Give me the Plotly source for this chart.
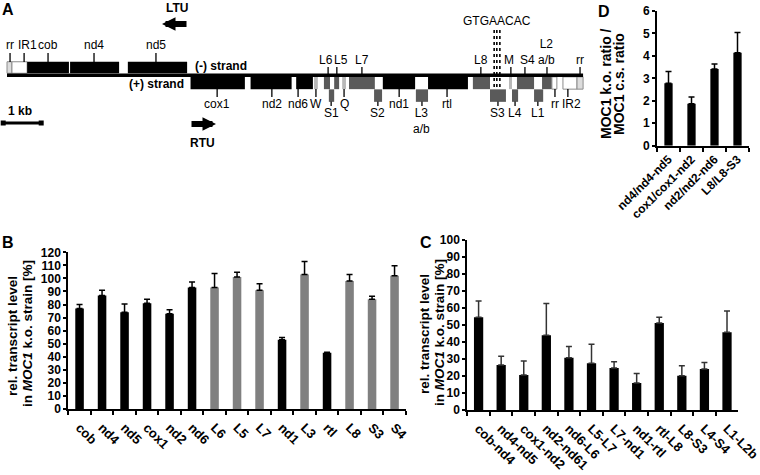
import plotly.graph_objects as go

W, H = 760, 475
FONT = 'Liberation Sans, Arial, sans-serif'

# ---------- A: gene map of the mitochondrial genome (positions in kb) ----------
genome_kb = 15.16
gene_names = ['rr', 'IR1', 'cob', 'nd4', 'nd5',
              'cox1', 'nd2', 'nd6', 'W', 'L6', 'L5', 'Q', 'L7', 'nd1', 'rtl',
              'L8', 'M', 'S4', 'L2', 'rr', 'IR2', 'rr',
              'S1', 'S2', 'L3', 'S3', 'L4', 'L1']
gene_start = [0.00, 0.13, 0.53, 1.66, 3.18,
              4.83, 6.41, 7.61, 8.08, 8.34, 8.61, 8.82, 9.00, 9.89, 11.08,
              12.26, 13.21, 13.42, 14.08, 14.34, 14.63, 15.00,
              8.47, 9.66, 10.76, 12.71, 13.29, 13.87]
gene_end = [0.13, 0.53, 1.63, 2.95, 4.74,
            6.26, 7.49, 8.05, 8.18, 8.50, 8.74, 8.92, 9.68, 10.74, 12.13,
            12.71, 13.29, 13.87, 14.34, 14.47, 15.00, 15.16,
            8.61, 9.87, 11.08, 13.13, 13.45, 14.11]
gene_track = ['minus'] * 5 + ['plus'] * 17 + ['small'] * 6
gene_kind = ['end', 'repeat', 'protein', 'protein', 'protein',
             'protein', 'protein', 'protein', 'trna', 'rrna', 'rrna', 'trna', 'rrna', 'protein', 'protein',
             'rrna', 'trna', 'rrna', 'rrna', 'repeat', 'repeat', 'end',
             'rrna', 'rrna', 'rrna', 'rrna', 'rrna', 'rrna']

label_text = ['rr', 'IR1', 'cob', 'nd4', 'nd5',
              'L6', 'L5', 'L7', 'L8', 'M', 'S4', 'L2<br>a/b', 'rr',
              'cox1', 'nd2', 'nd6', 'W', 'Q', 'nd1', 'rtl', 'rr', 'IR2',
              'S1', 'S2', 'L3<br>a/b', 'S3', 'L4', 'L1']
label_kb = [0.08, 0.45, 1.08, 2.29, 3.92,
            8.45, 8.68, 9.34, 12.47, 13.26, 13.63, 14.21, 15.08,
            5.53, 6.97, 7.66, 8.13, 8.87, 10.32, 11.58, 14.42, 14.76,
            8.53, 9.76, 10.92, 12.92, 13.37, 13.97]
label_row = ['top'] * 5 + ['mid'] * 8 + ['low'] * 9 + ['sub'] * 6

motif_kb = [12.82, 12.89, 12.97]
scale_bar_kb = [-0.1, 0.9]

# ---------- B: single transcripts ----------
b_names = ['cob', 'nd4', 'nd5', 'cox1', 'nd2', 'nd6', 'L6', 'L5', 'L7',
           'nd1', 'L3', 'rtl', 'L8', 'S3', 'S4']
b_level = [77, 87, 74, 81, 73, 93, 93, 101, 91, 53, 103, 43, 98, 84, 102]
b_err = [3, 4, 6.5, 3, 3, 4.3, 10.7, 3.8, 4.9, 1.8, 10, 0.5, 5, 2.3, 7.7]
b_kind = ['protein'] * 6 + ['rrna'] * 3 + ['protein', 'rrna', 'protein', 'rrna', 'rrna', 'rrna']

# ---------- C: co-transcripts ----------
c_names = ['cob-nd4', 'nd4-nd5', 'cox1-nd2', 'nd2-nd61', 'nd6-L6', 'L5-L7',
           'L7-nd1', 'nd1-rtl', 'rtl-L8', 'L8-S3', 'L4-S4', 'L1-L2b']
c_level = [54.5, 26.5, 20.6, 43.9, 30.8, 27.5, 24.7, 15.9, 51.2, 20.2, 24.1, 45.7]
c_err = [9.6, 5.1, 8.2, 18.8, 6.5, 11.2, 3.7, 5.5, 3.3, 5.9, 3.9, 12.5]

# ---------- D: ratios ----------
d_names = ['nd4/nd4-nd5', 'cox1/cox1-nd2', 'nd2/nd2-nd6', 'L8/L8-S3']
d_ratio = [2.78, 1.87, 3.42, 4.14]
d_err = [0.53, 0.30, 0.22, 0.90]


def xp(p):
    return p / W


def yp(p):
    return 1 - p / H


TRACK = {'minus': (67.5, 11.5), 'plus': (83, 12.3), 'small': (95.6, 12.5)}
FILL = {'protein': '#000000', 'rrna': '#5a5a5a', 'trna': '#b8b8b8',
        'repeat': '#ffffff', 'end': '#dcdcdc'}
EDGE = {'protein': 0, 'rrna': 0, 'trna': 0, 'repeat': 1, 'end': 1}
# tick from y0 to y1, label anchored at y with given yanchor
ROW = {'top': (53, 62, 52.5, 'bottom'), 'mid': (67, 74.5, 68, 'bottom'),
       'low': (89, 97, 95.5, 'top'), 'sub': (101.5, 106, 104.5, 'top')}
# small sideways shifts (kb) so that neighbouring labels do not collide
NUDGE = {1: 0.08, 5: -0.05, 6: 0.1, 9: -0.05, 10: 0.06, 21: 0.1}
BAR_COL = {'protein': '#000000', 'rrna': '#808080'}

fig = go.Figure()

# gene boxes
fig.add_trace(go.Bar(
    orientation='h', xaxis='x4', yaxis='y4',
    base=gene_start, x=[e - s for s, e in zip(gene_start, gene_end)],
    y=[TRACK[t][0] for t in gene_track], width=[TRACK[t][1] for t in gene_track],
    marker=dict(color=[FILL[k] for k in gene_kind],
                line=dict(color='#8c8c8c', width=[EDGE[k] for k in gene_kind])),
    text=gene_names, textposition='none', hoverinfo='text'))

# strand line
fig.add_trace(go.Scatter(x=[0, genome_kb], y=[75.3, 75.3], mode='lines',
                         line=dict(color='black', width=3.4), xaxis='x4', yaxis='y4'))

# label ticks
tx, ty = [], []
for k, r in zip(label_kb, label_row):
    tx += [k, k, None]
    ty += [ROW[r][0], ROW[r][1], None]
fig.add_trace(go.Scatter(x=tx, y=ty, mode='lines', line=dict(color='black', width=1.3),
                         xaxis='x4', yaxis='y4'))

# GTGAACAC motif
mx, my = [], []
for k in motif_kb:
    mx += [k, k, None]
    my += [30, 89, None]
fig.add_trace(go.Scatter(x=mx, y=my, mode='lines', line=dict(color='black', width=1.6, dash='dot'),
                         xaxis='x4', yaxis='y4'))

# scale bar
fig.add_trace(go.Scatter(x=scale_bar_kb, y=[123, 123], mode='lines+markers',
                         line=dict(color='black', width=3),
                         marker=dict(symbol='square', size=5, color='black'),
                         xaxis='x4', yaxis='y4'))

# B
fig.add_trace(go.Bar(x=b_names, y=b_level, width=0.38, xaxis='x', yaxis='y',
                     marker=dict(color=[BAR_COL[k] for k in b_kind], line=dict(width=0)),
                     error_y=dict(type='data', symmetric=False, array=b_err, arrayminus=[0] * len(b_err),
                                  color='black', thickness=1.5, width=3)))
# C
fig.add_trace(go.Bar(x=c_names, y=c_level, width=0.41, xaxis='x2', yaxis='y2',
                     marker=dict(color='black', line=dict(width=0)),
                     error_y=dict(type='data', symmetric=False, array=c_err, arrayminus=[0] * len(c_err),
                                  color='#333333', thickness=1.5, width=3)))
# D
fig.add_trace(go.Bar(x=d_names, y=d_ratio, width=0.36, xaxis='x3', yaxis='y3',
                     marker=dict(color='black', line=dict(width=0)),
                     error_y=dict(type='data', symmetric=False, array=d_err, arrayminus=[0] * len(d_err),
                                  color='black', thickness=1.5, width=3)))


def cat_axis(x0, x1, n, angle, size, anchor, standoff=0):
    return dict(domain=[xp(x0), xp(x1)], type='category', range=[-0.5, n - 0.5], anchor=anchor,
                showline=True, linecolor='black', linewidth=2,
                ticks='outside', tickson='boundaries', ticklen=4, tickwidth=2, tickcolor='black',
                tickangle=angle, ticklabelstandoff=standoff,
                tickfont=dict(family=FONT, size=size, color='black', weight='bold'),
                showgrid=False, zeroline=False, fixedrange=True)


def val_axis(top, bottom, rng, dtick, anchor):
    return dict(domain=[yp(bottom), yp(top)], range=rng, dtick=dtick, anchor=anchor,
                showline=True, linecolor='black', linewidth=2,
                ticks='outside', ticklen=3, tickwidth=1.5, tickcolor='black',
                tickfont=dict(family=FONT, size=12, color='black', weight='bold'),
                showgrid=False, zeroline=False, fixedrange=True)


hidden = dict(visible=False, showgrid=False, zeroline=False, fixedrange=True)

anns = []
for i, (t, k, r) in enumerate(zip(label_text, label_kb, label_row)):
    anns.append(dict(xref='x4', yref='y4', x=k + NUDGE.get(i, 0), y=ROW[r][2], yanchor=ROW[r][3],
                     text=t, showarrow=False, font=dict(size=12), borderpad=0))
anns.append(dict(xref='x4', yref='y4', x=sum(motif_kb) / len(motif_kb), y=28.5, yanchor='bottom',
                 text='GTGAACAC', showarrow=False, font=dict(size=12), borderpad=0))


def txt(x, y, text, size=12, bold=True, angle=0):
    return dict(xref='paper', yref='paper', x=xp(x), y=yp(y), text=text, showarrow=False,
                textangle=angle, xanchor='center', yanchor='middle',
                font=dict(size=size, weight='bold' if bold else 'normal'))


anns += [
    txt(221, 66, '(-) strand'), txt(156, 84, '(+) strand'),
    txt(177, 8, 'LTU'), txt(202, 143, 'RTU'), txt(20, 111, '1 kb'),
    txt(7.5, 10, 'A', 16), txt(7.5, 242.5, 'B', 16), txt(426, 243, 'C', 16), txt(604, 11, 'D', 16),
    txt(12, 336, 'rel. transcript level', 13.5, angle=-90),
    txt(27, 334, 'in <i>MOC1</i> k.o. strain [%]', 13.5, angle=-90),
    txt(424, 334, 'rel. transcript level', 13.5, angle=-90),
    txt(439, 333, 'in <i>MOC1</i> k.o. strain [%]', 13.5, angle=-90),
    txt(606, 84, 'MOC1 k.o. ratio /', 14, angle=-90),
    txt(619, 84, 'MOC1 c.s. ratio', 14, angle=-90),
    dict(xref='paper', yref='paper', x=xp(162), y=yp(24), ax=26, ay=0, text='',
         showarrow=True, arrowhead=2, arrowwidth=6, arrowsize=0.45, arrowcolor='black'),
    dict(xref='paper', yref='paper', x=xp(216), y=yp(124), ax=-26, ay=0, text='',
         showarrow=True, arrowhead=2, arrowwidth=6, arrowsize=0.45, arrowcolor='black'),
]

fig.update_layout(
    width=W, height=H, template='none', showlegend=False, hovermode=False,
    margin=dict(l=0, r=0, t=0, b=0), paper_bgcolor='white', plot_bgcolor='white',
    font=dict(family=FONT, color='black'),
    xaxis=cat_axis(68.3, 405.8, len(b_names), 45, 13, 'y', 4),
    yaxis=val_axis(252.3, 409, [0, 120], 10, 'x'),
    xaxis2=cat_axis(467.3, 738.3, len(c_names), 45, 13, 'y2', 4),
    yaxis2=val_axis(240, 410, [0, 100], 10, 'x2'),
    xaxis3=cat_axis(657, 749, len(d_names), -45, 12, 'y3'),
    yaxis3=val_axis(11, 145.7, [0, 6], 1, 'x3'),
    xaxis4=dict(hidden, domain=[0, xp(600)], range=[-7 / 38, 593 / 38], anchor='y4'),
    yaxis4=dict(hidden, domain=[yp(150), 1], range=[150, 0], anchor='x4'),
    annotations=anns,
)

# drop the browser's default page margin so the figure sits at the window's corner
fig.write_html("out.html", config={'displayModeBar': False},
               post_script="document.body.style.margin='0';")
